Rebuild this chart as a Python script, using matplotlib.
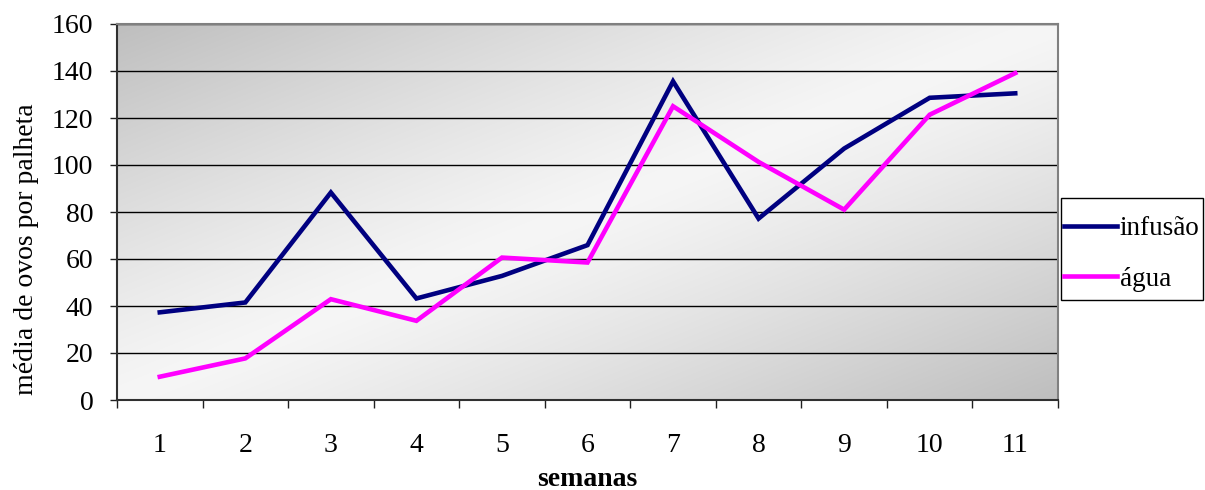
import numpy as np
import matplotlib
matplotlib.use("Agg")
import matplotlib.pyplot as plt
from matplotlib.ticker import FixedLocator, NullFormatter
from matplotlib.patches import Rectangle

semanas = [1, 2, 3, 4, 5, 6, 7, 8, 9, 10, 11]
infusao = [37.3, 41.5, 88.3, 43.2, 52.8, 65.9, 135.6, 77.2, 107.0, 128.6, 130.5]
agua = [9.9, 17.7, 42.9, 33.7, 60.6, 58.5, 125.0, 101.3, 81.0, 121.4, 139.1]
yticks = [0, 20, 40, 60, 80, 100, 120, 140, 160]

plt.rcParams['font.family'] = ['Liberation Serif', 'DejaVu Serif']

W, H = 1205, 490
fig = plt.figure(figsize=(W/100, H/100), dpi=100)
ax = fig.add_axes([117/W, 90/H, (1058-117)/W, (400-24)/H])

# gradient background
nx, ny = 400, 200
xx, yy = np.meshgrid(np.linspace(0, 1, nx), np.linspace(1, 0, ny))
d = np.abs(xx - yy)
val = (246 - 56 * d**1.2) / 255.0
img = np.dstack([val, val, val])
ax.imshow(img, extent=[0, 1, 0, 1], transform=ax.transAxes, aspect='auto',
          zorder=0, interpolation='bilinear')

ax.set_xlim(0.5, 11.5)
ax.set_ylim(0, 160)
ax.set_yticks(yticks)
ax.yaxis.grid(True, color='black', linewidth=1.0, zorder=1)
ax.set_axisbelow(True)

ax.plot(semanas, infusao, color='#000080', linewidth=3.3, label='infusão', zorder=3,
        solid_joinstyle='miter')
ax.plot(semanas, agua, color='#FF00FF', linewidth=3.3, label='água', zorder=3,
        solid_joinstyle='miter')

ax.set_xticks(semanas)
ax.set_xticklabels([str(s) for s in semanas])
ax.xaxis.set_minor_locator(FixedLocator(np.arange(0.5, 12, 1)))
ax.xaxis.set_minor_formatter(NullFormatter())
ax.tick_params(axis='x', which='major', length=0, pad=24, labelsize=20)
ax.tick_params(axis='x', which='minor', length=6, width=1, direction='out', color='#202020')
ax.tick_params(axis='y', which='major', length=5, width=1, direction='out', pad=12,
               labelsize=20, color='#202020')

for s in ['top', 'right']:
    ax.spines[s].set_color('#808080')
    ax.spines[s].set_linewidth(1.5)
for s in ['left', 'bottom']:
    ax.spines[s].set_color('#303030')
    ax.spines[s].set_linewidth(1.5)

fig.text(587.5/W, (H-486)/H, 'semanas', ha='center', va='baseline',
         fontsize=20, fontweight='bold')
fig.text(27/W, (H-249)/H, 'média de ovos por palheta', ha='center', va='center',
         rotation=90, fontsize=20)

# legend frame box
box = Rectangle((1061/W, (H-300)/H), (1203-1061)/W, (300-198)/H,
                transform=fig.transFigure, facecolor='white',
                edgecolor='black', linewidth=1.0, zorder=4, clip_on=False)
ax.add_artist(box)
leg = ax.legend(loc='center left', bbox_to_anchor=(1064/W, (H-254)/H),
                bbox_transform=fig.transFigure, fontsize=19.5, frameon=False,
                handlelength=1.95, handletextpad=0.1, borderpad=0,
                labelspacing=0.95, borderaxespad=0)
leg.set_zorder(6)

fig.savefig('out.png', dpi=100)
